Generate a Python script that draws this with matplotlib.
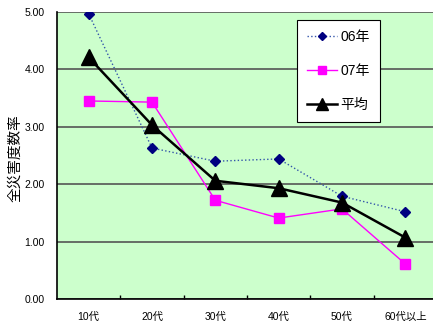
import numpy as np
import matplotlib.pyplot as plt

plt.rcParams['font.family'] = ['Liberation Sans', 'Noto Sans CJK JP', 'DejaVu Sans']

ages = ['10代', '20代', '30代', '40代', '50代', '60代以上']
rate_06 = [4.97, 2.63, 2.40, 2.44, 1.79, 1.52]
rate_07 = [3.45, 3.43, 1.72, 1.41, 1.57, 0.61]
rate_avg = [4.21, 3.03, 2.06, 1.93, 1.68, 1.07]

fig = plt.figure(figsize=(4.33, 3.22), dpi=100)
ax = fig.add_axes([57 / 433, 23 / 322, 380 / 433, 287 / 322])
ax.set_facecolor('#CCFFCC')

x = np.arange(len(ages))
ax.plot(x, rate_06, linestyle=':', color='#3355AA', lw=1.0,
        marker='D', ms=5.5, mfc='#000080', mec='#000080', label='06年', zorder=3)
ax.plot(x, rate_07, linestyle='-', color='#FF00FF', lw=1.0,
        marker='s', ms=7.5, mfc='#FF00FF', mec='#FF00FF', label='07年', zorder=3)
ax.plot(x, rate_avg, linestyle='-', color='black', lw=1.8,
        marker='^', ms=11, mfc='black', mec='black', label='平均', zorder=4)

ax.set_xlim(-0.5, len(ages) - 0.5)
ax.set_ylim(0, 5)
yt = np.arange(0, 5.01, 1.0)
ax.set_yticks(yt)
ax.set_yticklabels(['%.2f' % v for v in yt], fontsize=7.5)
ax.set_xticks(x)
ax.set_xticklabels(ages, fontsize=7.5)
ax.set_xticks(np.arange(0.5, len(ages) - 1, 1.0), minor=True)
ax.tick_params(axis='x', which='major', length=0, pad=9)
ax.tick_params(axis='x', which='minor', direction='in', length=3, width=1)
ax.tick_params(axis='y', length=0, pad=9)
ax.yaxis.grid(True, color='#555555', lw=1.2)
ax.set_axisbelow(True)

for s in ['top', 'right']:
    ax.spines[s].set_visible(False)
ax.spines['left'].set_linewidth(1.2)
ax.spines['bottom'].set_linewidth(1.2)

ax.set_ylabel('全災害度数率', fontsize=10.5)
ax.yaxis.set_label_coords(-35 / 380, 0.49)

leg = ax.legend(loc='upper left', bbox_to_anchor=(240 / 380, 1 - 8 / 287),
                borderaxespad=0, fontsize=10, frameon=True, fancybox=False,
                edgecolor='black', framealpha=1, borderpad=0.7,
                labelspacing=1.45, handlelength=2.2, handletextpad=0.25,
                markerscale=0.8)
leg.get_frame().set_linewidth(0.8)

fig.savefig('out.png', dpi=100)
